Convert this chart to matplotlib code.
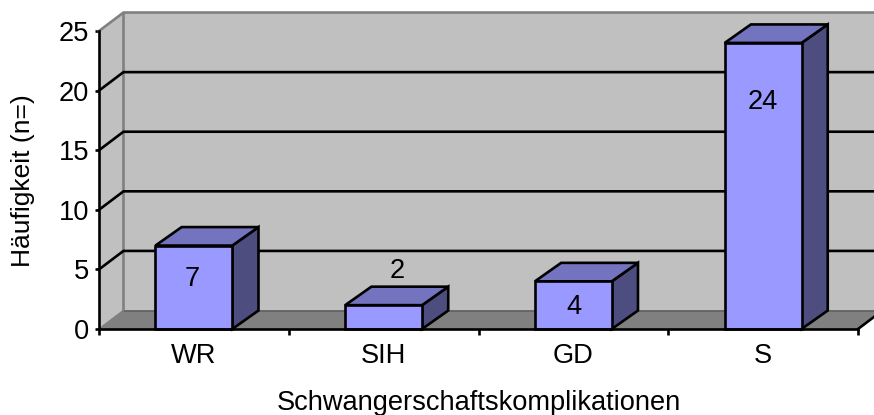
"""
Schwangerschaftskomplikationen - 3D style bar chart drawn on plain 2D axes
"""
import matplotlib
matplotlib.use('Agg')
import matplotlib.pyplot as plt
from matplotlib.patches import Polygon

plt.rcParams['font.family'] = ['Liberation Sans', 'DejaVu Sans']

categories = ['WR', 'SIH', 'GD', 'S']
counts = [7, 2, 4, 24]
y_ticks = [0, 5, 10, 15, 20, 25]

W, H = 874, 415
WALL = '#C0C0C0'
FLOOR = '#808080'
EDGE = '#808080'
FRONT = '#9999FF'
TOP = '#7373BF'
SIDE = '#4D4D80'
FS = 19.6
LW = 1.9

# depth of the fake 3D box, in data units
DX, DY = 0.129, 1.55
BAR_DX, BAR_DY = 0.138, 1.55
BAR_W = 0.405

# label offsets from the bar (x in categories, y in values)
label_dx = [-0.01, 0.072, 0.002, 0.0]
label_dy = [-2.8, 2.9, -2.15, -4.92]

fig = plt.figure(figsize=(W / 100, H / 100), dpi=100)
ax = fig.add_axes([99 / W, (H - 329) / H, 759 / W, 298 / H])
ax.set_xlim(0, len(categories))
ax.set_ylim(0, 25)
ax.patch.set_visible(False)


def poly(pts, fc, ec='none', lw=0, z=1):
    ax.add_patch(Polygon(pts, closed=True, facecolor=fc, edgecolor=ec, linewidth=lw,
                         joinstyle='miter', zorder=z, clip_on=False))


n = len(categories)
# walls + floor
poly([(0, 0), (DX, DY), (DX, 25 + DY), (0, 25)], WALL)
poly([(DX, DY), (n + DX, DY), (n + DX, 25 + DY), (DX, 25 + DY)], WALL)
poly([(0, 0), (DX, DY), (n + DX, DY), (n, 0)], FLOOR)

# wall outlines
ax.plot([0, DX, n + DX], [25, 25 + DY, 25 + DY], color=EDGE, lw=LW, clip_on=False, zorder=2)
ax.plot([DX, DX], [DY, 25 + DY], color=EDGE, lw=LW, clip_on=False, zorder=2)
ax.plot([DX, n + DX], [DY, DY], color='#606060', lw=1.2, clip_on=False, zorder=2)
ax.plot([0, DX], [0, DY], color=EDGE, lw=1.2, clip_on=False, zorder=2)
ax.plot([n, n + DX], [0, DY], color='black', lw=LW, clip_on=False, zorder=2)

# gridlines run up the side wall then across the back
for v in y_ticks[1:-1]:
    ax.plot([0, DX, n + DX], [v, v + DY, v + DY], color='black', lw=LW,
            clip_on=False, zorder=3, solid_joinstyle='miter')

# bars
for i, c in enumerate(counts):
    x0 = i + 0.5 - BAR_W / 2
    x1 = i + 0.5 + BAR_W / 2
    poly([(x1, 0), (x1 + BAR_DX, BAR_DY), (x1 + BAR_DX, c + BAR_DY), (x1, c)],
         SIDE, 'black', LW, 4)
    poly([(x0, c), (x0 + BAR_DX, c + BAR_DY), (x1 + BAR_DX, c + BAR_DY), (x1, c)],
         TOP, 'black', LW, 4)
    poly([(x0, 0), (x1, 0), (x1, c), (x0, c)], FRONT, 'black', LW, 5)
    ax.text(i + 0.5 + label_dx[i], c + label_dy[i], str(c), ha='center', va='center',
            fontsize=FS, color='black', zorder=6)

# axes
for s in ('top', 'right'):
    ax.spines[s].set_visible(False)
for s in ('left', 'bottom'):
    ax.spines[s].set_linewidth(LW)
    ax.spines[s].set_zorder(7)
ax.set_yticks(y_ticks)
ax.set_xticks(range(n + 1))
ax.set_xticklabels([])
ax.set_xticks([i + 0.5 for i in range(n)], minor=True)
ax.set_xticklabels(categories, minor=True, fontsize=FS)
ax.tick_params(axis='x', which='major', length=4.5, width=LW, direction='out')
ax.tick_params(axis='x', which='minor', length=0, pad=10)
ax.tick_params(axis='y', length=3, width=LW, direction='out', labelsize=FS, pad=4)

fig.text(478.5 / W, 1 - 402.5 / H, 'Schwangerschaftskomplikationen', ha='center', va='center', fontsize=FS)
fig.text(23 / W, 1 - 181 / H, 'Häufigkeit (n=)', ha='center', va='center', rotation=90, fontsize=FS - 0.6)

fig.savefig('out.png', dpi=100, facecolor='white')
plt.close(fig)
